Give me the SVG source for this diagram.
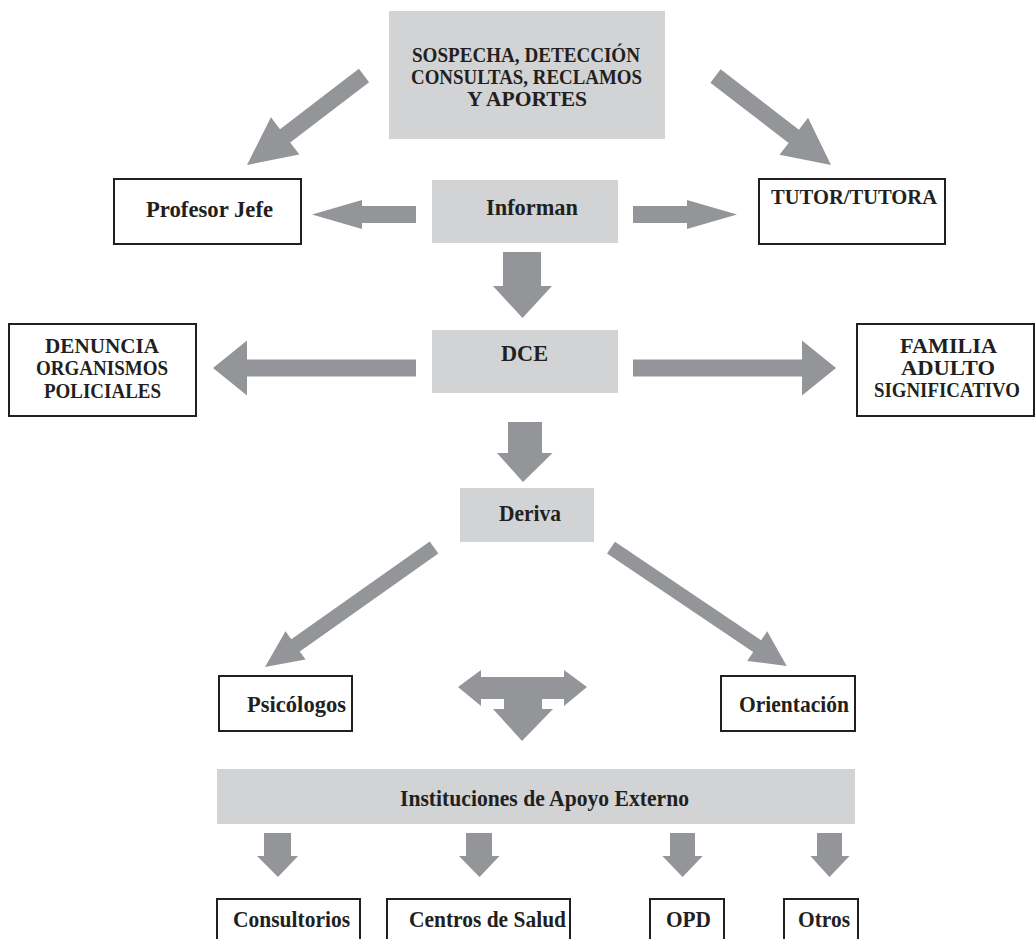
<svg xmlns="http://www.w3.org/2000/svg" width="1035" height="939" viewBox="0 0 1035 939">
<style>
.g{fill:#d1d3d4;stroke:none}
.w{fill:#ffffff;stroke:#231f20;stroke-width:2}
.t{font-family:"Liberation Serif","Times New Roman",serif;font-weight:bold;font-size:23px;fill:#231f20}
.c{font-size:20px}
.a{fill:#939598;stroke:none}
</style>
<rect width="1035" height="939" fill="#ffffff"/>
<g id="connectors">
<polygon class="a" transform="translate(247,165) rotate(142.58)" points="-147.3,-8.4 -48,-8.4 -48,-23.4 0,0 -48,23.4 -48,8.4 -147.3,8.4"/>
<polygon class="a" transform="translate(831,165) rotate(37.61)" points="-145.8,-8.4 -47,-8.4 -47,-23.4 0,0 -47,23.4 -47,8.4 -145.8,8.4"/>
<polygon class="a" points="416,206 362,206 362,200 312,214.5 362,229 362,223 416,223"/>
<polygon class="a" points="633,206 687,206 687,200 737,214.5 687,229 687,223 633,223"/>
<polygon class="a" points="503,252 541,252 541,286 552,286 522.5,318 493,286 503,286"/>
<polygon class="a" points="416,359.5 247,359.5 247,340.5 213,368 247,395.5 247,376.5 416,376.5"/>
<polygon class="a" points="633,359.5 802,359.5 802,340.5 836,368 802,395.5 802,376.5 633,376.5"/>
<polygon class="a" points="508,422 542,422 542,453 552.5,453 523,482 497,453 508,453"/>
<polygon class="a" transform="translate(265,667) rotate(144.74)" points="-207,-7.4 -37.4,-7.4 -37.4,-17.4 0,0 -37.4,17.4 -37.4,7.4 -207,7.4"/>
<polygon class="a" transform="translate(786.7,666) rotate(33.95)" points="-211.8,-7.1 -35.6,-7.1 -35.6,-17.9 0,0 -35.6,17.9 -35.6,7.1 -211.8,7.1"/>
<polygon class="a" points="458,687 481,670 481,677 564,677 564,670 587,687 564,706 564,699 542,699 542,709 553,709 522,741 493,709 504,709 504,699 481,699 481,706"/>
<polygon class="a" points="264,833 291,833 291,856 298,856 278,877 257,856 264,856"/>
<polygon class="a" points="466,833 492,833 492,856 499.5,856 479.5,877 459,856 466,856"/>
<polygon class="a" points="670,833 695,833 695,856 702.7,856 682.6,877 662.4,856 670,856"/>
<polygon class="a" points="817,833 842,833 842,856 849.5,856 829.5,877 810.4,856 817,856"/>
</g>
<g id="sospecha">
<rect class="g" x="389" y="11" width="276" height="128"/>
<text class="t c" x="412" y="62" textLength="228" lengthAdjust="spacingAndGlyphs">SOSPECHA, DETECCIÓN</text>
<text class="t c" x="411" y="84" textLength="231" lengthAdjust="spacingAndGlyphs">CONSULTAS, RECLAMOS</text>
<text class="t c" x="467" y="106" textLength="120" lengthAdjust="spacingAndGlyphs">Y APORTES</text>
</g>
<g id="profesor-jefe">
<rect class="w" x="114" y="179" width="187" height="65"/>
<text class="t" x="146" y="217" textLength="127" lengthAdjust="spacingAndGlyphs">Profesor Jefe</text>
</g>
<g id="informan">
<rect class="g" x="432" y="180" width="186" height="63"/>
<text class="t" x="486" y="215" textLength="92" lengthAdjust="spacingAndGlyphs">Informan</text>
</g>
<g id="tutor">
<rect class="w" x="759" y="179" width="186" height="65"/>
<text class="t" style="font-size:21px" x="771" y="204" textLength="166" lengthAdjust="spacingAndGlyphs">TUTOR/TUTORA</text>
</g>
<g id="denuncia">
<rect class="w" x="9" y="324" width="187" height="92"/>
<text class="t c" x="45" y="353" textLength="114" lengthAdjust="spacingAndGlyphs">DENUNCIA</text>
<text class="t c" x="36" y="375" textLength="132" lengthAdjust="spacingAndGlyphs">ORGANISMOS</text>
<text class="t c" x="44" y="398" textLength="117" lengthAdjust="spacingAndGlyphs">POLICIALES</text>
</g>
<g id="dce">
<rect class="g" x="432" y="330" width="186" height="63"/>
<text class="t" x="501" y="361" textLength="47" lengthAdjust="spacingAndGlyphs">DCE</text>
</g>
<g id="familia">
<rect class="w" x="857" y="324" width="177" height="92"/>
<text class="t c" x="900" y="353" textLength="97" lengthAdjust="spacingAndGlyphs">FAMILIA</text>
<text class="t c" x="901" y="375" textLength="94" lengthAdjust="spacingAndGlyphs">ADULTO</text>
<text class="t c" x="874" y="397" textLength="146" lengthAdjust="spacingAndGlyphs">SIGNIFICATIVO</text>
</g>
<g id="deriva">
<rect class="g" x="460" y="488" width="134" height="54"/>
<text class="t" x="499" y="521" textLength="62" lengthAdjust="spacingAndGlyphs">Deriva</text>
</g>
<g id="psicologos">
<rect class="w" x="219" y="676" width="133" height="55"/>
<text class="t" x="247" y="712" textLength="99" lengthAdjust="spacingAndGlyphs">Psicólogos</text>
</g>
<g id="orientacion">
<rect class="w" x="721" y="676" width="134" height="55"/>
<text class="t" x="739" y="712" textLength="110" lengthAdjust="spacingAndGlyphs">Orientación</text>
</g>
<g id="instituciones">
<rect class="g" x="217" y="769" width="638" height="55"/>
<text class="t" x="400" y="806" textLength="289" lengthAdjust="spacingAndGlyphs">Instituciones de Apoyo Externo</text>
</g>
<g id="consultorios">
<rect class="w" x="217" y="899" width="143" height="50"/>
<text class="t" x="233" y="927" textLength="117" lengthAdjust="spacingAndGlyphs">Consultorios</text>
</g>
<g id="centros-de-salud">
<rect class="w" x="387" y="899" width="183" height="50"/>
<text class="t" x="409" y="927" textLength="157" lengthAdjust="spacingAndGlyphs">Centros de Salud</text>
</g>
<g id="opd">
<rect class="w" x="650" y="899" width="74" height="50"/>
<text class="t" x="666" y="927" textLength="45" lengthAdjust="spacingAndGlyphs">OPD</text>
</g>
<g id="otros">
<rect class="w" x="784" y="899" width="74" height="50"/>
<text class="t" x="798" y="927" textLength="52" lengthAdjust="spacingAndGlyphs">Otros</text>
</g>
</svg>
